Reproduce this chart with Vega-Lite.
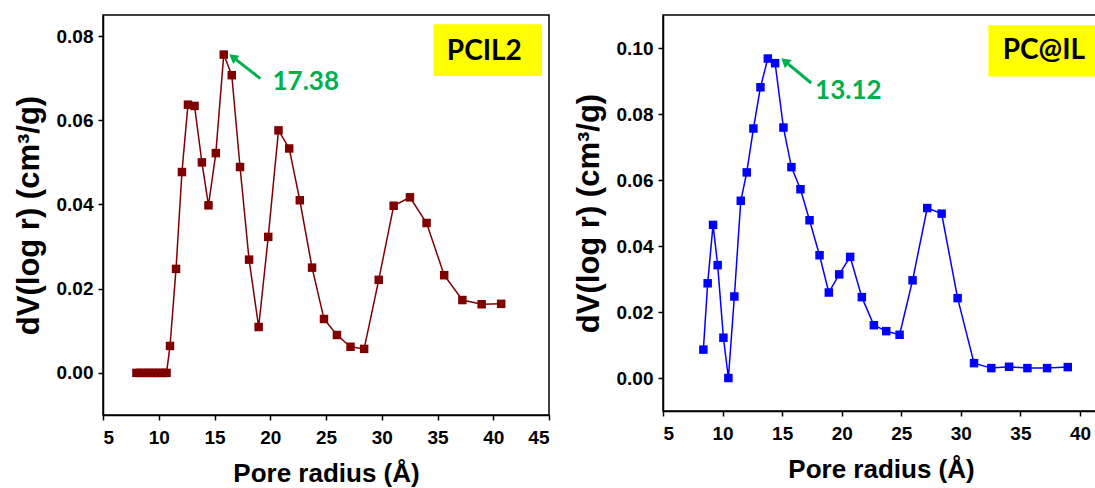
{
  "$schema": "https://vega.github.io/schema/vega-lite/v6.json",
  "background": "white",
  "padding": {"left": 12, "top": 14, "right": 0, "bottom": 0},
  "spacing": 114,
  "bounds": "flush",
  "config": {
    "view": {"stroke": "black", "strokeWidth": 1.5},
    "axis": {
      "grid": false,
      "domainColor": "black",
      "domainWidth": 1.5,
      "tickColor": "black",
      "tickWidth": 1.5,
      "tickSize": 5,
      "labelFont": "Liberation Sans",
      "labelFontWeight": "bold",
      "labelFontSize": 19,
      "labelColor": "black",
      "labelPadding": 5,
      "titleFont": "Liberation Sans",
      "titleFontWeight": "bold",
      "titleColor": "black"
    },
    "axisX": {"titleFontSize": 26, "labelPadding": 8, "titlePadding": 13},
    "axisY": {"titleFontSize": 31, "titlePadding": 11}
  },
  "datasets": {
    "pcil2": [
      {"r": 8.0, "dv": 0.0}, {"r": 8.35, "dv": 0.0}, {"r": 8.7, "dv": 0.0},
      {"r": 9.05, "dv": 0.0}, {"r": 9.4, "dv": 0.0}, {"r": 9.75, "dv": 0.0},
      {"r": 10.1, "dv": 0.0}, {"r": 10.4, "dv": 0.0}, {"r": 10.7, "dv": 0.0},
      {"r": 11.01, "dv": 0.0064}, {"r": 11.55, "dv": 0.0247}, {"r": 12.08, "dv": 0.0477},
      {"r": 12.62, "dv": 0.0637}, {"r": 13.21, "dv": 0.0634}, {"r": 13.87, "dv": 0.05},
      {"r": 14.46, "dv": 0.0398}, {"r": 15.12, "dv": 0.0522}, {"r": 15.83, "dv": 0.0756},
      {"r": 16.55, "dv": 0.0707}, {"r": 17.29, "dv": 0.0489}, {"r": 18.1, "dv": 0.0269},
      {"r": 18.96, "dv": 0.0109}, {"r": 19.82, "dv": 0.0323}, {"r": 20.74, "dv": 0.0576},
      {"r": 21.7, "dv": 0.0533}, {"r": 22.65, "dv": 0.041}, {"r": 23.75, "dv": 0.025},
      {"r": 24.82, "dv": 0.0128}, {"r": 25.98, "dv": 0.009}, {"r": 27.2, "dv": 0.0062},
      {"r": 28.42, "dv": 0.0057}, {"r": 29.73, "dv": 0.0221}, {"r": 31.07, "dv": 0.0397},
      {"r": 32.53, "dv": 0.0417}, {"r": 34.02, "dv": 0.0356}, {"r": 35.6, "dv": 0.0232},
      {"r": 37.23, "dv": 0.0173}, {"r": 38.96, "dv": 0.0163}, {"r": 40.71, "dv": 0.0164}
    ],
    "pcatil": [
      {"r": 8.39, "dv": 0.0086}, {"r": 8.75, "dv": 0.0287}, {"r": 9.2, "dv": 0.0464},
      {"r": 9.59, "dv": 0.0342}, {"r": 10.07, "dv": 0.0122}, {"r": 10.49, "dv": 0.0},
      {"r": 10.99, "dv": 0.0247}, {"r": 11.53, "dv": 0.0537}, {"r": 12.03, "dv": 0.0623},
      {"r": 12.59, "dv": 0.0756}, {"r": 13.18, "dv": 0.0881}, {"r": 13.8, "dv": 0.0968},
      {"r": 14.41, "dv": 0.0954}, {"r": 15.11, "dv": 0.0759}, {"r": 15.78, "dv": 0.0639},
      {"r": 16.54, "dv": 0.0572}, {"r": 17.3, "dv": 0.0478}, {"r": 18.14, "dv": 0.0372},
      {"r": 18.92, "dv": 0.0259}, {"r": 19.79, "dv": 0.0314}, {"r": 20.71, "dv": 0.0367},
      {"r": 21.69, "dv": 0.0245}, {"r": 22.7, "dv": 0.016}, {"r": 23.74, "dv": 0.0142},
      {"r": 24.86, "dv": 0.0131}, {"r": 25.95, "dv": 0.0296}, {"r": 27.18, "dv": 0.0515},
      {"r": 28.39, "dv": 0.0498}, {"r": 29.73, "dv": 0.0242}, {"r": 31.11, "dv": 0.0045},
      {"r": 32.56, "dv": 0.003}, {"r": 34.05, "dv": 0.0034}, {"r": 35.59, "dv": 0.003},
      {"r": 37.24, "dv": 0.003}, {"r": 38.98, "dv": 0.0033}
    ],
    "pcil2_note": [
      {"bx0": 34.64, "bx1": 44.37, "by0": 0.0705, "by1": 0.0828, "tag": "PCIL2", "tx": 39.2, "ty": 0.0763,
       "ax0": 19.11, "ay0": 0.0699, "ax1": 16.64, "ay1": 0.075, "peak": "17.38", "px": 20.2, "py": 0.0691}
    ],
    "pcatil_note": [
      {"bx0": 32.31, "bx1": 41.47, "by0": 0.0914, "by1": 0.1069, "tag": "PC@IL", "tx": 36.97, "ty": 0.099,
       "ax0": 17.44, "ay0": 0.0894, "ax1": 15.22, "ay1": 0.096, "peak": "13.12", "px": 17.77, "py": 0.0869}
    ]
  },
  "hconcat": [
    {
      "width": 446,
      "height": 400,
      "encoding": {
        "x": {"type": "quantitative", "title": "Pore radius (Å)",
              "scale": {"domain": [5, 45], "nice": false, "zero": false},
              "axis": {"values": [5, 10, 15, 20, 25, 30, 35, 40, 45]}},
        "y": {"type": "quantitative", "title": "dV(log r) (cm³/g)",
              "scale": {"domain": [-0.01, 0.085], "nice": false, "zero": false},
              "axis": {"values": [0, 0.02, 0.04, 0.06, 0.08], "format": ".2f"}}
      },
      "layer": [
        {
          "data": {"name": "pcil2"},
          "mark": {"type": "line", "color": "#7F0000", "strokeWidth": 1.5},
          "encoding": {"x": {"field": "r"}, "y": {"field": "dv"}}
        },
        {
          "data": {"name": "pcil2"},
          "mark": {"type": "point", "shape": "square", "filled": true, "size": 72, "opacity": 1, "color": "#7F0000"},
          "encoding": {"x": {"field": "r"}, "y": {"field": "dv"}}
        },
        {
          "data": {"name": "pcil2_note"},
          "mark": {"type": "rect", "fill": "#FFFF00"},
          "encoding": {"x": {"field": "bx0"}, "x2": {"field": "bx1"}, "y": {"field": "by0"}, "y2": {"field": "by1"}}
        },
        {
          "data": {"name": "pcil2_note"},
          "mark": {"type": "text", "font": "Lato", "fontWeight": "bold", "fontSize": 28, "color": "black", "align": "center", "baseline": "middle"},
          "encoding": {"x": {"field": "tx"}, "y": {"field": "ty"}, "text": {"field": "tag"}}
        },
        {
          "data": {"name": "pcil2_note"},
          "mark": {"type": "rule", "color": "#00B050", "strokeWidth": 3},
          "encoding": {"x": {"field": "ax0"}, "x2": {"field": "ax1"}, "y": {"field": "ay0"}, "y2": {"field": "ay1"}}
        },
        {
          "data": {"name": "pcil2_note"},
          "mark": {"type": "point", "shape": "triangle-up", "filled": true, "size": 110, "opacity": 1, "color": "#00B050", "angle": 307},
          "encoding": {"x": {"field": "ax1"}, "y": {"field": "ay1"}}
        },
        {
          "data": {"name": "pcil2_note"},
          "mark": {"type": "text", "font": "Lato", "fontWeight": "bold", "fontSize": 26, "color": "#00B050", "align": "left", "baseline": "middle"},
          "encoding": {"x": {"field": "px"}, "y": {"field": "py"}, "text": {"field": "peak"}}
        }
      ]
    },
    {
      "width": 436,
      "height": 396,
      "encoding": {
        "x": {"type": "quantitative", "title": "Pore radius (Å)",
              "scale": {"domain": [5, 41.6], "nice": false, "zero": false},
              "axis": {"values": [5, 10, 15, 20, 25, 30, 35, 40]}},
        "y": {"type": "quantitative", "title": "dV(log r) (cm³/g)",
              "scale": {"domain": [-0.01, 0.11], "nice": false, "zero": false},
              "axis": {"values": [0, 0.02, 0.04, 0.06, 0.08, 0.1], "format": ".2f"}}
      },
      "layer": [
        {
          "data": {"name": "pcatil"},
          "mark": {"type": "line", "color": "#0000FF", "strokeWidth": 1.5},
          "encoding": {"x": {"field": "r"}, "y": {"field": "dv"}}
        },
        {
          "data": {"name": "pcatil"},
          "mark": {"type": "point", "shape": "square", "filled": true, "size": 72, "opacity": 1, "color": "#0000FF"},
          "encoding": {"x": {"field": "r"}, "y": {"field": "dv"}}
        },
        {
          "data": {"name": "pcatil_note"},
          "mark": {"type": "rect", "fill": "#FFFF00"},
          "encoding": {"x": {"field": "bx0"}, "x2": {"field": "bx1"}, "y": {"field": "by0"}, "y2": {"field": "by1"}}
        },
        {
          "data": {"name": "pcatil_note"},
          "mark": {"type": "text", "font": "Lato", "fontWeight": "bold", "fontSize": 28, "color": "black", "align": "center", "baseline": "middle"},
          "encoding": {"x": {"field": "tx"}, "y": {"field": "ty"}, "text": {"field": "tag"}}
        },
        {
          "data": {"name": "pcatil_note"},
          "mark": {"type": "rule", "color": "#00B050", "strokeWidth": 3},
          "encoding": {"x": {"field": "ax0"}, "x2": {"field": "ax1"}, "y": {"field": "ay0"}, "y2": {"field": "ay1"}}
        },
        {
          "data": {"name": "pcatil_note"},
          "mark": {"type": "point", "shape": "triangle-up", "filled": true, "size": 110, "opacity": 1, "color": "#00B050", "angle": 310},
          "encoding": {"x": {"field": "ax1"}, "y": {"field": "ay1"}}
        },
        {
          "data": {"name": "pcatil_note"},
          "mark": {"type": "text", "font": "Lato", "fontWeight": "bold", "fontSize": 26, "color": "#00B050", "align": "left", "baseline": "middle"},
          "encoding": {"x": {"field": "px"}, "y": {"field": "py"}, "text": {"field": "peak"}}
        }
      ]
    }
  ]
}
